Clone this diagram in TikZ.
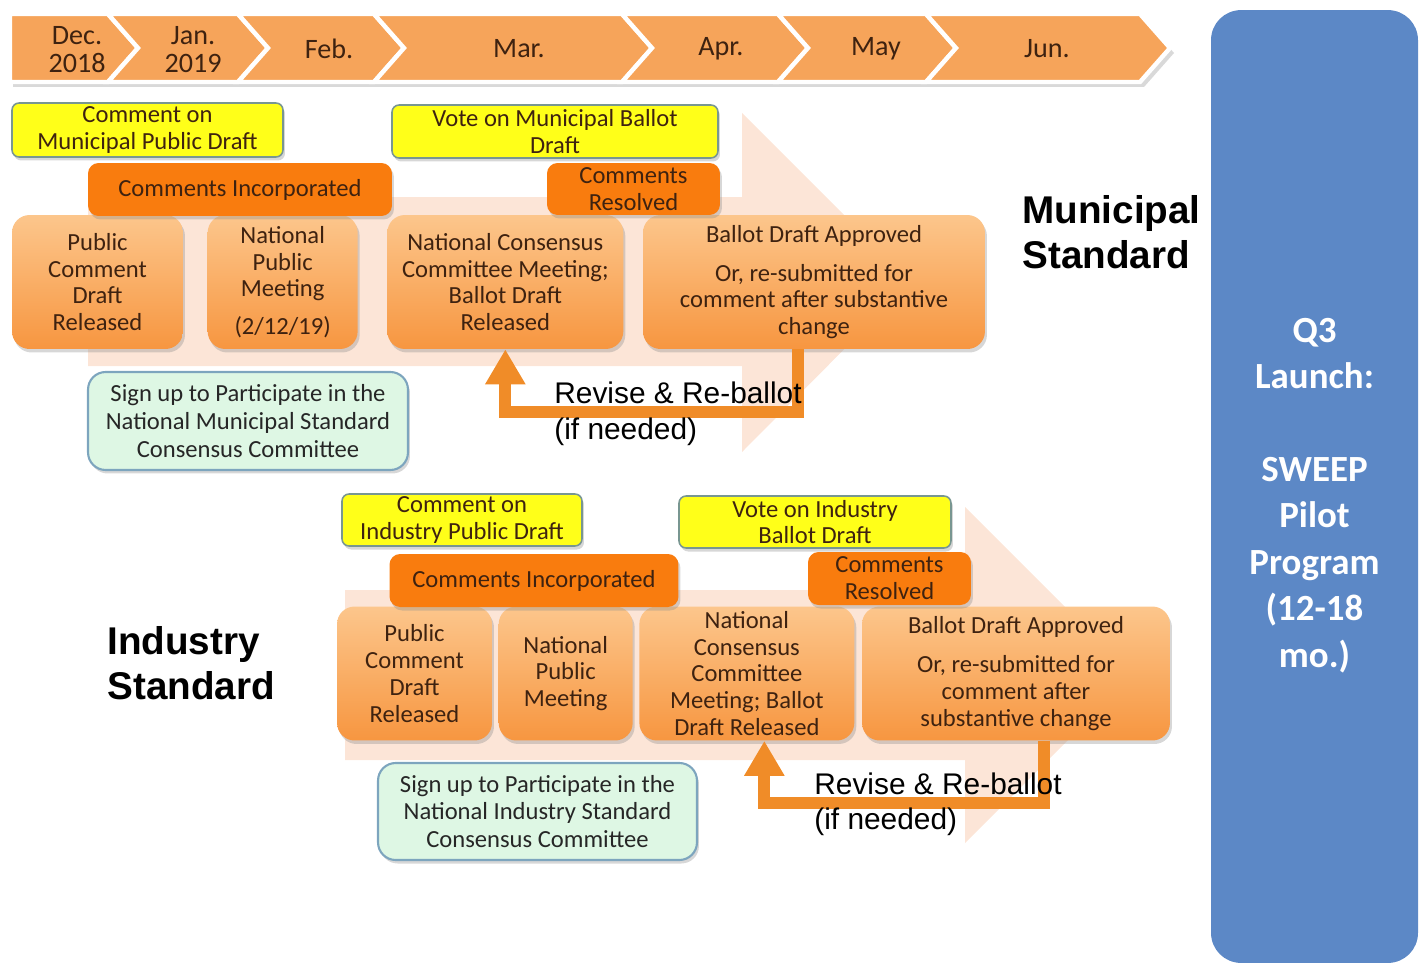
\documentclass[tikz,border=0pt]{standalone}
\usepackage{fontspec}
\setmainfont{Carlito}
\newfontfamily\arialfont{Liberation Sans}
\usepackage{tikz}
\usetikzlibrary{positioning, arrows.meta, shadows, calc}

\definecolor{chevfill}{RGB}{246,164,90}
\definecolor{inktext}{RGB}{62,34,16}
\definecolor{stagetop}{RGB}{252,198,140}
\definecolor{stagebot}{RGB}{247,150,64}
\definecolor{hotorange}{RGB}{249,124,14}
\definecolor{notefill}{RGB}{255,255,25}
\definecolor{noterim}{RGB}{120,150,145}
\definecolor{peach}{RGB}{252,229,215}
\definecolor{signfill}{RGB}{222,247,228}
\definecolor{signrim}{RGB}{125,165,190}
\definecolor{loopline}{RGB}{240,140,40}
\definecolor{launchblue}{RGB}{92,136,198}

\tikzstyle{softshadow} = [drop shadow={shadow xshift=0.04cm, shadow yshift=-0.07cm, fill=black!45, opacity=0.35}]
\tikzstyle{monthlbl} = [font=\fontsize{16}{16}\selectfont, text=inktext, align=center]
\tikzstyle{notebox} = [rectangle, rounded corners=4pt, draw=noterim, line width=0.9pt, fill=notefill, text=inktext, align=center, inner sep=0pt, font=\fontsize{14}{15.3}\selectfont, softshadow]
\tikzstyle{hotbox} = [rectangle, rounded corners=6pt, fill=hotorange, text=inktext, align=center, inner sep=0pt, font=\fontsize{14}{15.3}\selectfont, softshadow]
\tikzstyle{stagebox} = [rectangle, rounded corners=10pt, top color=stagetop, bottom color=stagebot, text=inktext, align=center, inner sep=0pt, minimum height=2.68cm, font=\fontsize{14}{15.2}\selectfont, softshadow]
\tikzstyle{signbox} = [rectangle, rounded corners=10pt, draw=signrim, line width=1.2pt, fill=signfill, text=black!85, align=center, inner sep=0pt, font=\fontsize{14}{15.8}\selectfont, softshadow]
\tikzstyle{reballot} = [draw=loopline, line width=0.24cm, -{Triangle[width=0.76cm,length=0.7cm]}]
\tikzstyle{reballottext} = [font=\arialfont\fontsize{17}{20}\selectfont, align=left, inner sep=0pt, anchor=north west]
\tikzstyle{stdname} = [font=\arialfont\bfseries\fontsize{22}{25.5}\selectfont, align=left, inner sep=0pt, anchor=west]
\tikzstyle{launchbox} = [rectangle, rounded corners=0.6cm, fill=launchblue, text=white, align=center, minimum width=4.14cm, minimum height=19.06cm, font=\bfseries\fontsize{21}{26.4}\selectfont]

\begin{document}
\begin{tikzpicture}[x=0.02cm, y=-0.02cm]
        \useasboundingbox (0,0) rectangle (1426,963);

        % big pale arrows behind each track
        \fill [peach] (88,197) -- (742,197) -- (742,113) -- (911,282) -- (742,452) -- (742,366) -- (88,366) -- cycle;
        \fill [peach] (345,590) -- (965,590) -- (965,507) -- (1133,675) -- (965,843) -- (965,760) -- (345,760) -- cycle;

        % timeline
        \fill [black!15] (13,19) -- (1144,19) -- (1174,53) -- (1144,87) -- (13,87) -- cycle;
        \filldraw [fill=chevfill, draw=white, line width=2.5pt] (10,14) -- (108,14) -- (138,48) -- (108,82) -- (10,82) -- cycle;
        \foreach \l/\r in {108/238, 238/374, 374/622, 622/778, 778/926, 926/1140}
            \filldraw [fill=chevfill, draw=white, line width=2.5pt] (\l,14) -- (\r,14) -- (\r+30,48) -- (\r,82) -- (\l,82) -- (\l+30,48) -- cycle;
        \node (dec) [monthlbl] at (77,50) {Dec.\\2018};
        \node (jan) [monthlbl] at (193,50) {Jan.\\2019};
        \node (feb) [monthlbl] at (329,49) {Feb.};
        \node (mar) [monthlbl] at (519,49) {Mar.};
        \node (apr) [monthlbl] at (721,49) {Apr.};
        \node (may) [monthlbl] at (876,49) {May};
        \node (jun) [monthlbl] at (1047,49) {Jun.};

        % municipal track
        \node (mpcd) [stagebox, minimum width=3.42cm] at (97.5,282) {Public\\Comment\\Draft\\Released};
        \node (mnpm) [stagebox, minimum width=3.0cm, right=0.48cm of mpcd] {National\\Public\\Meeting\\[6pt](2/12/19)};
        \node (mncc) [stagebox, minimum width=4.72cm, right=0.58cm of mnpm] {National Consensus\\Committee Meeting;\\Ballot Draft\\Released};
        \node (mbda) [stagebox, minimum width=6.84cm, right=0.38cm of mncc] {Ballot Draft Approved\\[7pt]Or, re-submitted for\\comment after substantive\\change};
        \node (mincorp) [hotbox, minimum width=6.08cm, minimum height=1.06cm] at (240,189.5) {Comments Incorporated};
        \node (mresolved) [hotbox, minimum width=3.46cm, minimum height=1.04cm] at (633.5,189) {Comments\\Resolved};
        \node (mcomment) [notebox, minimum width=5.42cm, minimum height=1.08cm] at (147.5,130) {Comment on\\Municipal Public Draft};
        \node (mvote) [notebox, minimum width=6.52cm, minimum height=1.06cm] at (555,131.5) {Vote on Municipal Ballot\\Draft};
        \node (msign) [signbox, minimum width=6.4cm, minimum height=1.96cm] at (248,421) {Sign up to Participate in the\\National Municipal Standard\\Consensus Committee};
        \draw [reballot] ([xshift=-0.32cm]mbda.south) -- ++(0,63) -| (mncc.south);
        \node (mrevise) [reballottext] at (554,382) {Revise \& Re-ballot\\(if needed)};
        \node (mstd) [stdname] at (1022,232) {Municipal\\Standard};

        % industry track
        \node (ipcd) [stagebox, minimum width=3.1cm] at (414.5,673.5) {Public\\Comment\\Draft\\Released};
        \node (inpm) [stagebox, minimum width=2.68cm, right=0.12cm of ipcd] {National\\Public\\Meeting};
        \node (incc) [stagebox, minimum width=4.3cm, right=0.12cm of inpm] {National\\Consensus\\Committee\\Meeting; Ballot\\Draft Released};
        \node (ibda) [stagebox, minimum width=6.16cm, right=0.14cm of incc] {Ballot Draft Approved\\[7pt]Or, re-submitted for\\comment after\\substantive change};
        \node (iincorp) [hotbox, minimum width=5.78cm, minimum height=1.06cm] at (534,580.5) {Comments Incorporated};
        \node (iresolved) [hotbox, minimum width=3.26cm, minimum height=1.06cm] at (889.5,578.5) {Comments\\Resolved};
        \node (icomment) [notebox, minimum width=4.8cm, minimum height=1.04cm] at (462,520) {Comment on\\Industry Public Draft};
        \node (ivote) [notebox, minimum width=5.44cm, minimum height=1.04cm] at (815,522) {Vote on Industry\\Ballot Draft};
        \node (isign) [signbox, minimum width=6.38cm, minimum height=1.94cm] at (537.5,811.5) {Sign up to Participate in the\\National Industry Standard\\Consensus Committee};
        \draw [reballot] ([xshift=0.56cm]ibda.south) -- ++(0,62) -| ([xshift=0.35cm]incc.south);
        \node (irevise) [reballottext] at (814,772) {Revise \& Re-ballot\\(if needed)};
        \node (istd) [stdname] at (107,663) {Industry\\Standard};

        % launch box
        \node (launch) [launchbox] at (1314.5,486.5) {\rule{0pt}{24pt}Q3\\Launch:\\[26.4pt]SWEEP\\Pilot\\Program\\(12-18\\mo.)};
\end{tikzpicture}
\end{document}
